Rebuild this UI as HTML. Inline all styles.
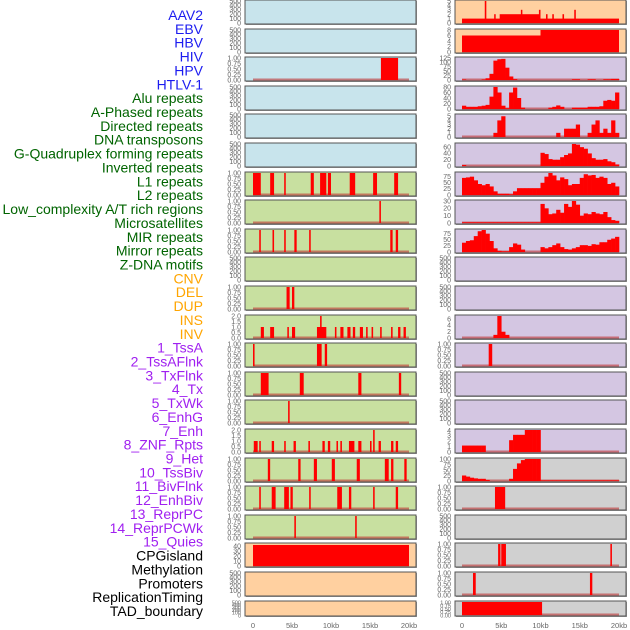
<!DOCTYPE html>
<html><head><meta charset="utf-8"><style>
body{margin:0;background:#fff;}
svg{display:block;font-family:"Liberation Sans",sans-serif;}
</style></head><body>
<svg id="c" width="630" height="630" viewBox="0 0 630 630"></svg>
<script>
const labels=["AAV2","EBV","HBV","HIV","HPV","HTLV-1","Alu repeats","A-Phased repeats","Directed repeats","DNA transposons","G-Quadruplex forming repeats","Inverted repeats","L1 repeats","L2 repeats","Low_complexity A/T rich regions","Microsatellites","MIR repeats","Mirror repeats","Z-DNA motifs","CNV","DEL","DUP","INS","INV","1_TssA","2_TssAFlnk","3_TxFlnk","4_Tx","5_TxWk","6_EnhG","7_Enh","8_ZNF_Rpts","9_Het","10_TssBiv","11_BivFlnk","12_EnhBiv","13_ReprPC","14_ReprPCWk","15_Quies","CPGisland","Methylation","Promoters","ReplicationTiming","TAD_boundary"];
const labelGroups=[0,0,0,0,0,0,1,1,1,1,1,1,1,1,1,1,1,1,1,2,2,2,2,2,3,3,3,3,3,3,3,3,3,3,3,3,3,3,3,4,4,4,4,4];
const groupColors=["#1c1cf0","#006400","#ffa500","#a020f0","#000000"];
const leftBg=[0,0,0,0,0,0,1,1,1,1,1,1,1,1,1,1,1,1,1,2,2,2];
const rightBg=[2,2,3,3,3,3,3,3,3,3,3,3,3,3,3,3,4,4,4,4,4,4];
const bgColors=["#c8e4ec","#c8e0a0","#ffd0a0","#d4c6e2","#d0d0d0"];
// left panels: segments [startKb,endKb,value]
const leftSegs=[[],[],[[16.4,18.6,1]],[],[],[],
[[0,1.0,1],[2.2,2.7,1],[4.0,4.2,1],[7.4,7.8,1],[8.6,9.4,1],[9.6,10.0,1],[12.4,13.1,1],[15.4,15.9,1],[18.1,18.6,1]],
[[16.2,16.4,1]],
[[0.8,1.0,1],[2.5,2.7,1],[4.0,4.2,1],[5.3,5.6,1],[7.2,7.4,1],[17.6,17.9,1],[18.3,18.6,1]],
[],
[[4.3,4.7,1],[5.0,5.3,1]],
[[1.0,1.4,1],[2.2,2.7,1],[4.4,4.6,1],[5.0,5.4,1],[8.2,9.4,1],[8.6,8.8,2],[10.5,10.7,1],[11.2,11.6,1],[12.1,12.5,1],[12.8,13.1,1],[13.7,14.1,1],[14.5,14.7,1],[15.2,15.4,1],[16.3,16.5,1],[17.7,17.9,1],[18.6,18.9,1],[19.3,19.6,1]],
[[0,0.2,1],[8.2,8.8,1],[9.2,9.5,1]],
[[1.0,2.0,1],[6.0,6.5,1],[13.5,13.9,1],[18.7,19.0,1]],
[[4.5,4.7,1]],
[[0.1,0.6,1],[0.8,1.0,1],[2.4,2.7,1],[4.0,4.2,1],[5.2,5.5,1],[7.1,7.3,1],[8.9,9.2,1],[9.6,9.9,1],[10.7,10.9,1],[11.2,11.4,1],[12.3,13.0,1],[13.5,13.9,1],[15.0,15.2,1],[15.4,15.6,2],[16.1,16.4,1],[17.7,18.0,1],[18.3,18.6,1]],
[[1.9,2.2,1],[5.8,6.1,1],[7.8,8.2,1],[10.1,10.5,1],[13.3,13.7,1],[16.9,17.4,1],[17.7,18.0,1],[19.4,19.7,1]],
[[0.8,1.0,1],[2.4,2.9,1],[4.0,4.6,1],[4.8,5.1,1],[7.2,7.4,1],[10.8,11.4,1],[12.3,12.6,1],[15.4,15.6,1],[18.3,18.6,1]],
[[5.3,5.5,1],[13.1,13.3,1]],
[[0,20,43]],[],[]];
const leftMax=[500,500,1,500,500,500,1,1,1,500,1,2,1,1,1,2,1,1,1,45,500,500];
// right panels: 0.5kb histogram bins (40 per panel) or segments
const rightBins=[
null,null,
[3,0,0,0,0,3,10,35,110,118,120,70,20,5,0,0,0,0,0,0,0,0,0,0,0,0,0,0,4,4,0,0,4,4,0,0,4,4,6,6],
[12,8,8,8,10,12,15,45,80,60,12,3,60,78,40,5,0,0,0,0,0,0,5,8,13,8,0,0,5,5,5,5,8,8,8,10,30,33,30,60],
[0,0,0,0,0,0,0,0,1,4,5,0,0,0,0,0,0,0,0,0,0,0,0,0,1,0,2,2,2,3,0,0,1,3,4,1,2,1,4,1],
[3,0,0,0,0,0,0,0,0,0,0,0,0,0,0,0,0,0,0,0,42,38,22,20,20,28,35,40,70,68,60,55,40,25,20,20,22,15,12,5],
[70,72,75,60,45,40,45,35,15,5,5,5,3,15,28,28,28,28,28,28,50,75,90,80,60,72,65,40,45,45,70,85,80,82,70,75,70,45,50,35],
[1,1,1,1,1,1,1,1,1,1,1,1,1,1,1,1,1,1,1,1,26,20,12,13,18,14,26,22,30,25,10,13,12,15,13,12,15,8,4,3],
[38,45,48,65,85,90,75,45,15,5,3,3,20,35,30,10,0,0,0,0,20,15,20,28,35,20,12,10,15,20,28,28,25,32,30,40,40,50,55,62],
null,null,
[0,0,0,0,0,0,0,0,1,7,2,1,0,0,0,0,0,0,0,0,0,0,0,0,0,0,0,0,0,0,0,0,0,0,0,0,0,0,0,0],
null,null,null,
[1.2,1.2,1.2,1.2,1.2,1.2,0,0,0,0,0,0,2.2,3.2,3.2,3.2,4.1,4.1,4.1,4.1,0,0,0,0,0,0,0,0,0,0,0,0,0,0,0,0,0,0,0,0],
[25,20,15,12,10,10,5,0,0,0,0,0,10,55,80,95,100,100,100,100,3,3,3,3,3,3,3,3,3,3,3,3,3,3,3,3,3,3,3,3],
null,null,null,null,null];
const rightSegs=[
[[0,20,1],[2.9,3.1,5],[4.1,4.2,2],[4.8,9.9,2],[7.5,7.6,3],[9.8,10.0,3],[10.7,10.9,2],[11.5,11.7,2],[12.8,13.0,2],[14.3,14.5,3]],
[[0,10,6],[10,20,8]],
[],[],[],[],[],[],[],[],[],[],
[[3.4,3.85,1]],[],[],[],[],
[[4.2,5.5,1]],[],
[[4.6,4.9,1],[5.0,5.6,1],[18.9,19.1,1]],
[[1.4,1.75,1],[16.3,16.6,1]],
[[0,10.2,1]]];
const rightMax=[5,8,125,80,5.3,70,90,30,90,500,500,7,1,500,500,4.1,100,1,500,1,1,1];
const tickSets={
"500":[[0,"0"],[100,"100"],[200,"200"],[300,"300"],[400,"400"],[500,"500"]],
"1":[[0,"0.00"],[0.25,"0.25"],[0.5,"0.50"],[0.75,"0.75"],[1,"1.00"]],
"2":[[0,"0.0"],[0.5,"0.5"],[1,"1.0"],[1.5,"1.5"],[2,"2.0"]],
"45":[[0,"0"],[10,"10"],[20,"20"],[30,"30"],[40,"40"]],
"5":[[0,"0"],[1,"1"],[2,"2"],[3,"3"],[4,"4"],[5,"5"]],
"5.3":[[0,"0"],[1,"1"],[2,"2"],[3,"3"],[4,"4"],[5,"5"]],
"8":[[0,"0"],[2,"2"],[4,"4"],[6,"6"],[8,"8"]],
"125":[[0,"0"],[25,"25"],[50,"50"],[75,"75"],[100,"100"],[125,"125"]],
"80":[[0,"0"],[20,"20"],[40,"40"],[60,"60"],[80,"80"]],
"70":[[0,"0"],[20,"20"],[40,"40"],[60,"60"]],
"90":[[0,"0"],[25,"25"],[50,"50"],[75,"75"]],
"30":[[0,"0"],[10,"10"],[20,"20"],[30,"30"]],
"7":[[0,"0"],[2,"2"],[4,"4"],[6,"6"]],
"4.1":[[0,"0"],[1,"1"],[2,"2"],[3,"3"],[4,"4"]],
"100":[[0,"0"],[25,"25"],[50,"50"],[75,"75"],[100,"100"]]};
const xTicks=[0,5,10,15,20];
const xTickLabels=["0","5kb","10kb","15kb","20kb"];

const NS="http://www.w3.org/2000/svg";
const svg=document.getElementById("c");
function mk(tag,attrs,parent){const e=document.createElementNS(NS,tag);for(const k in attrs)e.setAttribute(k,attrs[k]);(parent||svg).appendChild(e);return e;}
function rowTop(i){return i<21?Math.round(i*28.6):601;}
function rowH(i){return i<21?24:15;}
const cols=[{x0:245,x1:416,kx0:253,kx1:409,bgs:leftBg,segs:leftSegs,bins:null,maxs:leftMax,side:"left"},
{x0:455,x1:626,kx0:462,kx1:619,bgs:rightBg,segs:rightSegs,bins:rightBins,maxs:rightMax,side:"right"}];

labels.forEach((t,i)=>{
  const e=mk("text",{x:203,y:20+i*13.86,"text-anchor":"end","font-size":"14",fill:groupColors[labelGroups[i]]});
  e.textContent=t;
  
  
});

cols.forEach(c=>{
  const sx=k=>c.kx0+(c.kx1-c.kx0)*k/20;
  for(let i=0;i<22;i++){
    const top=rowTop(i),h=rowH(i),bot=top+h;
    const g=mk("g",{});
    
    
    mk("rect",{x:c.x0+1,y:top+1,width:c.x1-c.x0,height:h,fill:"#999"},g);
    mk("rect",{x:c.x0,y:top,width:c.x1-c.x0,height:h,fill:bgColors[c.bgs[i]],stroke:"#555","stroke-width":1},g);
    const ymax=c.maxs[i];
    const sy=v=>(bot-1)-(h-2)*v/ymax;
    const segs=c.segs[i]; const bins=c.bins?c.bins[i]:null;
    const hasData=segs.length>0||bins;
    if(hasData){
      const bl=mk("line",{x1:sx(0),x2:sx(20),y1:bot-1.5,y2:bot-1.5,stroke:"rgba(190,50,50,0.6)","stroke-width":2},g);
      
      
    }
    if(bins){bins.forEach((v,b)=>{if(v<=0)return;
      const r=mk("rect",{x:sx(b*0.5),y:sy(v),width:sx((b+1)*0.5)-sx(b*0.5)+0.3,height:(bot-1)-sy(v),fill:"#ff0000"},g);
      
      });}
    segs.forEach(s=>{
      const r=mk("rect",{x:sx(s[0]),y:sy(s[2]),width:Math.max(1.5,sx(s[1])-sx(s[0])),height:(bot-1)-sy(s[2]),fill:"#ff0000"},g);
      
      
    });
    const ticks=tickSets[String(ymax)]||[];
    ticks.forEach(t=>{
      const e=mk("text",{x:c.x0-4,y:sy(t[0])+2.3,"text-anchor":"end","font-size":h<20?"5.5":"7",fill:"#666"},g);
      e.textContent=t[1];
      
      
    });
  }
  xTicks.forEach((k,j)=>{
    const e=mk("text",{x:sx(k),y:628,"text-anchor":"middle","font-size":"7.5",fill:"#666"});
    e.textContent=xTickLabels[j];
    
    
  });
});
</script>
</body></html>
